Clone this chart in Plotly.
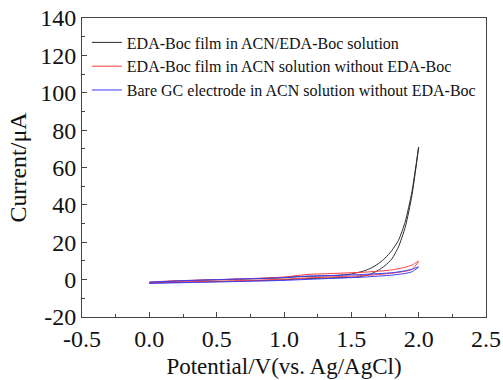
import plotly.graph_objects as go

# Black: EDA-Boc film in ACN/EDA-Boc solution (forward then reverse)
v_black = [0.0, 0.2, 0.4, 0.6, 0.8, 1.0, 1.1, 1.2, 1.3, 1.4, 1.5, 1.55, 1.6, 1.65, 1.7, 1.75, 1.8, 1.85, 1.9, 1.95, 2.0,
           1.95, 1.9, 1.85, 1.8, 1.75, 1.7, 1.65, 1.6, 1.5, 1.4, 1.3, 1.2, 1.1, 1.0, 0.8, 0.6, 0.4, 0.2, 0.0]
i_black = [-1.8, -1.5, -1.2, -0.9, -0.5, -0.1, 0.3, 0.6, 0.8, 1.0, 1.2, 1.5, 2.1, 3.2, 5.0, 7.5, 11.0, 17.5, 28.0, 45.0, 71.0,
           47.0, 31.0, 21.0, 15.5, 11.5, 8.5, 6.3, 4.8, 3.0, 2.3, 2.0, 1.8, 1.5, 1.0, 0.5, 0.1, -0.3, -0.8, -1.5]

# Red: EDA-Boc film in ACN solution without EDA-Boc
v_red = [0.0, 0.2, 0.4, 0.6, 0.8, 1.0, 1.1, 1.2, 1.4, 1.6, 1.8, 1.9, 1.95, 2.0,
         1.95, 1.9, 1.8, 1.6, 1.4, 1.3, 1.2, 1.1, 1.0, 0.8, 0.6, 0.4, 0.2, 0.0]
i_red = [-1.6, -1.3, -1.0, -0.7, -0.3, 0.2, 0.6, 1.0, 1.6, 2.2, 3.4, 4.5, 5.5, 9.8,
         7.8, 6.6, 5.2, 4.0, 3.4, 3.1, 2.9, 2.2, 1.4, 0.7, 0.2, -0.2, -0.6, -1.3]

# Blue: Bare GC electrode in ACN solution without EDA-Boc
v_blue = [0.0, 0.2, 0.4, 0.6, 0.8, 1.0, 1.2, 1.4, 1.6, 1.8, 1.9, 1.95, 2.0,
          1.95, 1.9, 1.8, 1.6, 1.4, 1.2, 1.1, 1.0, 0.8, 0.6, 0.4, 0.2, 0.0]
i_blue = [-2.0, -1.7, -1.4, -1.1, -0.8, -0.4, 0.2, 0.8, 1.4, 2.4, 3.3, 4.2, 6.8,
          5.6, 4.7, 3.7, 2.8, 2.3, 1.9, 1.6, 1.1, 0.6, 0.2, -0.2, -0.7, -1.4]

names = ["EDA-Boc film in ACN/EDA-Boc solution",
         "EDA-Boc film in ACN solution without EDA-Boc",
         "Bare GC electrode in ACN solution without EDA-Boc"]
colors = ["#2a2a2a", "#ff3b3b", "#3b3bff"]

x_ticks = [-0.5, 0.0, 0.5, 1.0, 1.5, 2.0, 2.5]
x_ticklabels = ["-0.5", "0.0", "0.5", "1.0", "1.5", "2.0", "2.5"]
y_ticks = [-20, 0, 20, 40, 60, 80, 100, 120, 140]
y_ticklabels = ["-20", "0", "20", "40", "60", "80", "100", "120", "140"]

FONT = "Liberation Serif"

fig = go.Figure()
for v, i, n, c in zip([v_black, v_red, v_blue], [i_black, i_red, i_blue], names, colors):
    fig.add_trace(go.Scatter(x=v, y=i, mode="lines", name=n,
                             line=dict(color=c, width=1, shape="spline", smoothing=0.6)))

axis_common = dict(showline=True, linecolor="#444", linewidth=1, mirror=True, automargin=False,
                   ticks="inside", ticklen=5, tickcolor="#444", showgrid=False, zeroline=False,
                   tickfont=dict(family=FONT, size=24, color="#111"))

fig.update_xaxes(range=[-0.5, 2.5], tickvals=x_ticks, ticktext=x_ticklabels,
                 minor=dict(dtick=0.25, ticks="inside", ticklen=3, tickcolor="#444"),
                 title=dict(text="Potential/V(vs. Ag/AgCl)", font=dict(family=FONT, size=23, color="#111"), standoff=7),
                 **axis_common)
fig.update_yaxes(range=[-20, 140], tickvals=y_ticks, ticktext=y_ticklabels,
                 minor=dict(dtick=10, ticks="inside", ticklen=3, tickcolor="#444"),
                 title=dict(text="Current/μA", font=dict(family=FONT, size=24, color="#111"), standoff=6),
                 **axis_common)

fig.update_layout(
    width=503, height=380,
    font=dict(family=FONT, color="#111"),
    margin=dict(l=82, r=17, t=18, b=63),
    plot_bgcolor="white", paper_bgcolor="white",
    legend=dict(x=0.012, y=0.975, xanchor="left", yanchor="top", bgcolor="rgba(0,0,0,0)",
                font=dict(family=FONT, size=16, color="#111"), tracegroupgap=0),
)

fig.write_html("out.html")
